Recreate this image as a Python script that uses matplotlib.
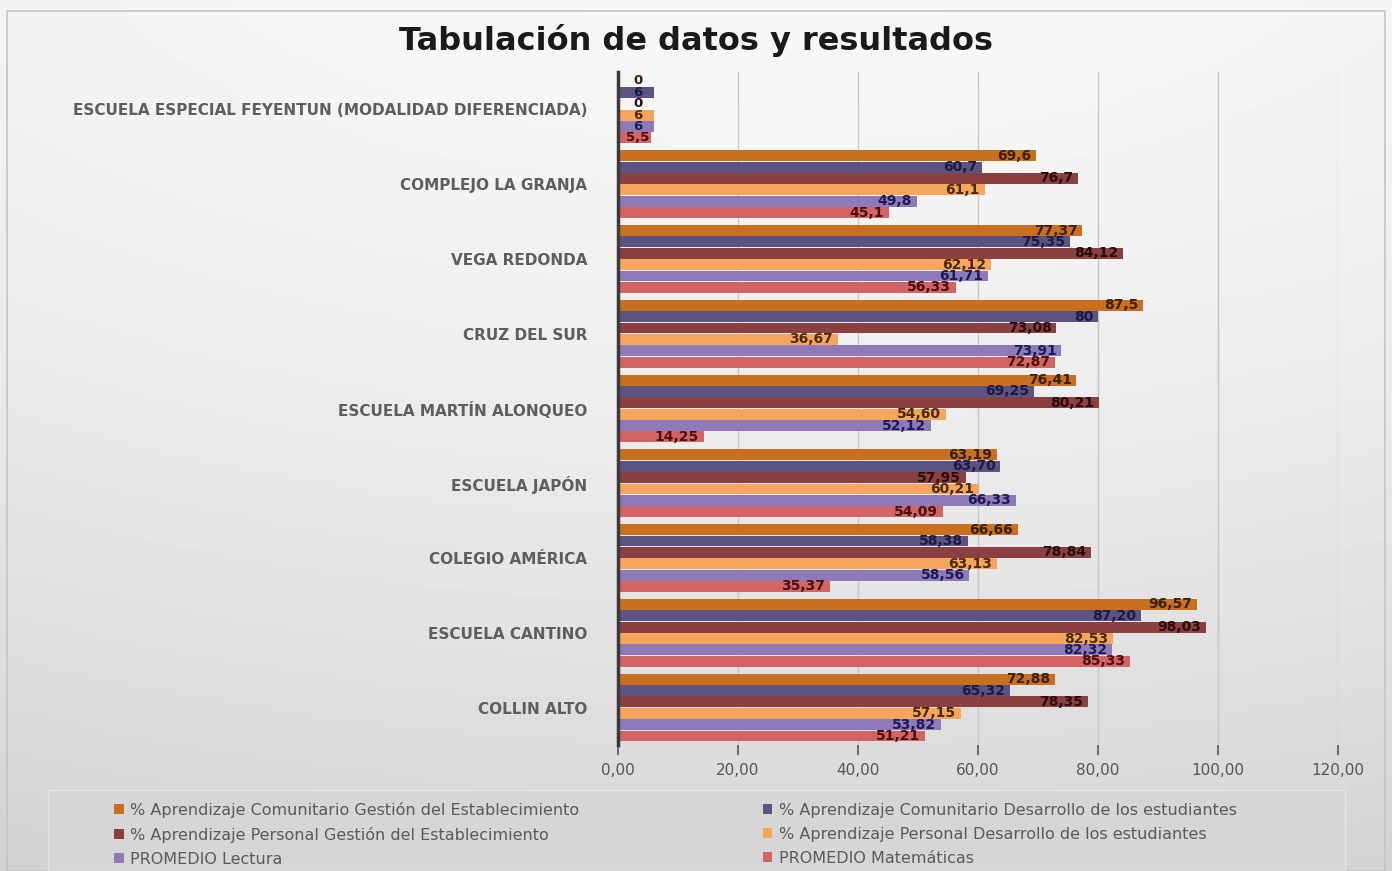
import numpy as np
import matplotlib
matplotlib.use("Agg")
import matplotlib.pyplot as plt
from matplotlib.patches import Rectangle
from matplotlib.ticker import FuncFormatter

# categories, top to bottom as in the chart
escuelas = [
    "ESCUELA ESPECIAL FEYENTUN (MODALIDAD DIFERENCIADA)",
    "COMPLEJO LA GRANJA",
    "VEGA REDONDA",
    "CRUZ DEL SUR",
    "ESCUELA MARTÍN ALONQUEO",
    "ESCUELA JAPÓN",
    "COLEGIO AMÉRICA",
    "ESCUELA CANTINO",
    "COLLIN ALTO",
]

series_names = [
    "% Aprendizaje Comunitario Gestión del Establecimiento",
    "% Aprendizaje Comunitario Desarrollo de los estudiantes",
    "% Aprendizaje Personal Gestión del Establecimiento",
    "% Aprendizaje Personal Desarrollo de los estudiantes",
    "PROMEDIO Lectura",
    "PROMEDIO Matemáticas",
]

com_gestion = [0, 69.6, 77.37, 87.5, 76.41, 63.19, 66.66, 96.57, 72.88]
com_desarrollo = [6, 60.7, 75.35, 80, 69.25, 63.70, 58.38, 87.20, 65.32]
per_gestion = [0, 76.7, 84.12, 73.08, 80.21, 57.95, 78.84, 98.03, 78.35]
per_desarrollo = [6, 61.1, 62.12, 36.67, 54.60, 60.21, 63.13, 82.53, 57.15]
prom_lectura = [6, 49.8, 61.71, 73.91, 52.12, 66.33, 58.56, 82.32, 53.82]
prom_matematicas = [5.5, 45.1, 56.33, 72.87, 14.25, 54.09, 35.37, 85.33, 51.21]

# data labels as printed on the chart
lbl_com_gestion = ["0", "69,6", "77,37", "87,5", "76,41", "63,19", "66,66", "96,57", "72,88"]
lbl_com_desarrollo = ["6", "60,7", "75,35", "80", "69,25", "63,70", "58,38", "87,20", "65,32"]
lbl_per_gestion = ["0", "76,7", "84,12", "73,08", "80,21", "57,95", "78,84", "98,03", "78,35"]
lbl_per_desarrollo = ["6", "61,1", "62,12", "36,67", "54,60", "60,21", "63,13", "82,53", "57,15"]
lbl_prom_lectura = ["6", "49,8", "61,71", "73,91", "52,12", "66,33", "58,56", "82,32", "53,82"]
lbl_prom_matematicas = ["5,5", "45,1", "56,33", "72,87", "14,25", "54,09", "35,37", "85,33", "51,21"]

valores = [com_gestion, com_desarrollo, per_gestion, per_desarrollo, prom_lectura, prom_matematicas]
etiquetas = [lbl_com_gestion, lbl_com_desarrollo, lbl_per_gestion, lbl_per_desarrollo,
             lbl_prom_lectura, lbl_prom_matematicas]

colores = ["#C8701F", "#5C5382", "#8A4040", "#F6A65C", "#8E79B9", "#D26563"]
colores_txt = ["#3a1f00", "#1b1a45", "#2a0c0c", "#4a2a00", "#1d1a55", "#4a0f10"]

fig = plt.figure(figsize=(13.92, 8.71), dpi=100)
fig.patch.set_facecolor("#d9d9d9")

# background gradient
bg = fig.add_axes([0, 0, 1, 1], zorder=-10)
yy, xx = np.mgrid[0:1:200j, 0:1:300j]
grad = 0.97 - 0.13 * yy ** 1.5 - 0.06 * np.abs(xx - 0.55) ** 2
bg.imshow(grad, cmap="gray", vmin=0, vmax=1, aspect="auto", extent=[0, 1, 0, 1])
bg.add_patch(Rectangle((0.005, 0.0), 0.99, 0.987, fill=False, edgecolor="#c4c4c4", lw=1.2))
bg.set_xlim(0, 1)
bg.set_ylim(0, 1)
bg.axis("off")

ax = fig.add_axes([618 / 1392, 1 - 745 / 871, 720 / 1392, 673 / 871])
ax.set_facecolor("none")

n = len(escuelas)
y = np.arange(n)
h = 0.152
for j in range(6):
    pos = y + (j - 2.5) * h
    ax.barh(pos, valores[j], height=h * 0.96, color=colores[j],
            edgecolor="none", label=series_names[j], zorder=3)
    for k, (v, t) in enumerate(zip(valores[j], etiquetas[j])):
        if v < 10:
            ax.text(3.3, pos[k], t, ha="center", va="center", fontsize=9.5,
                    fontweight="bold", color=colores_txt[j], zorder=4)
        else:
            ax.text(v - 0.8, pos[k], t, ha="right", va="center", fontsize=10,
                    fontweight="bold", color=colores_txt[j], zorder=4)

ax.set_xlim(0, 120)
ax.set_ylim(n - 0.5, -0.5)
ax.set_xticks(np.arange(0, 121, 20))
ax.xaxis.set_major_formatter(FuncFormatter(lambda v, p: f"{v:.2f}".replace(".", ",")))
ax.grid(axis="x", color="#c6c6c6", lw=1, zorder=0)
ax.set_yticks(y)
ax.set_yticklabels(escuelas, fontsize=11, fontweight="bold", color="#5e5e5e")
ax.tick_params(axis="y", length=0, pad=22)
ax.tick_params(axis="x", length=7, width=1.2, color="#555555", labelcolor="#555555",
               labelsize=11, pad=6)
for s in ["top", "right", "bottom"]:
    ax.spines[s].set_visible(False)
ax.spines["left"].set_color("#3a3a3a")
ax.spines["left"].set_linewidth(2.5)
ax.spines["left"].set_zorder(5)

fig.text(0.5, 0.953, "Tabulación de datos y resultados", ha="center", va="center",
         fontsize=23, fontweight="bold", color="#1a1a1a")

# legend box
bg.add_patch(Rectangle((48 / 1392, 0), 1297 / 1392, 81 / 871, facecolor="#d6d6d6",
                       edgecolor="#e4e4e4", lw=1))
handles, labels = ax.get_legend_handles_labels()
order = [0, 2, 4, 1, 3, 5]
leg = fig.legend([handles[i] for i in order], [labels[i] for i in order], ncol=2,
                 loc="upper left", bbox_to_anchor=(106 / 1392, 1 - 794 / 871),
                 frameon=False, fontsize=11.5, handlelength=0.6, handleheight=0.6,
                 handletextpad=0.4, columnspacing=11.5, labelspacing=0.55, borderpad=0)
for t in leg.get_texts():
    t.set_color("#5a5a5a")

fig.savefig("out.png", dpi=100, facecolor=fig.get_facecolor())
